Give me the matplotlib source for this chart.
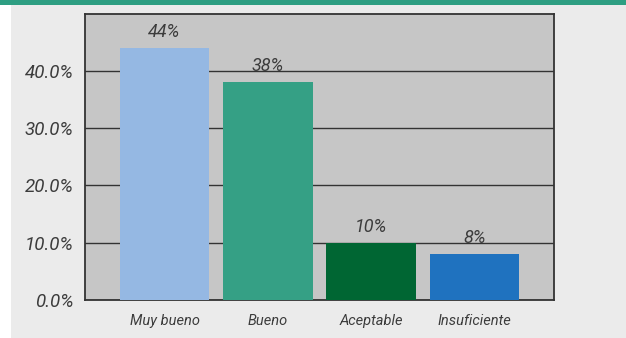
import matplotlib
matplotlib.use("Agg")
import matplotlib.pyplot as plt
from matplotlib.patches import Rectangle
from matplotlib.ticker import FuncFormatter

categories = ["Muy bueno", "Bueno", "Aceptable", "Insuficiente"]
values = [44, 38, 10, 8]
value_labels = ["44%", "38%", "10%", "8%"]
bar_colors = ["#95b8e3", "#35a085", "#006633", "#1f72bf"]
y_ticks = [0, 10, 20, 30, 40]

FONT = ["Roboto", "DejaVu Sans"]
TEXT = "#3c3c3c"

fig = plt.figure(figsize=(6.26, 3.38), dpi=100)
fig.patch.set_facecolor("white")

# page panel and teal strip along the top, kept behind the axes
fig.patches.append(Rectangle((11 / 626, 0), 1, 1 - 5 / 338, transform=fig.transFigure,
                             facecolor="#ebebeb", edgecolor="none", zorder=-10))
fig.patches.append(Rectangle((0, 1 - 5 / 338), 1, 5 / 338, transform=fig.transFigure,
                             facecolor="#2e9e82", edgecolor="none", zorder=-10))

ax = fig.add_axes([85 / 626, 38 / 338, (554 - 85) / 626, (300 - 13.5) / 338])
ax.set_facecolor("#c6c6c6")

x = list(range(len(categories)))
bars = ax.bar(x, values, width=0.87, color=bar_colors, zorder=3)

for rect, lab in zip(bars, value_labels):
    ax.annotate(lab, (rect.get_x() + rect.get_width() / 2, rect.get_height()),
                xytext=(0, 5), textcoords="offset points", ha="center", va="bottom",
                fontsize=13, fontstyle="italic", family=FONT,
                color=TEXT, zorder=4)

ax.set_xlim(-0.77, 3.77)
ax.set_ylim(0, 50)
ax.set_yticks(y_ticks)
ax.yaxis.set_major_formatter(FuncFormatter(lambda v, p: f"{v:.1f}%"))
ax.set_xticks(x)
ax.set_xticklabels(categories)

ax.grid(axis="y", color="#333333", linewidth=1.0, zorder=1)
ax.set_axisbelow(True)

ax.tick_params(axis="both", length=0, colors=TEXT)
ax.tick_params(axis="y", pad=8, labelsize=13.5)
ax.tick_params(axis="x", pad=10, labelsize=10.5)
for t in ax.get_xticklabels() + ax.get_yticklabels():
    t.set_family(FONT)
    t.set_fontstyle("italic")

for s in ax.spines.values():
    s.set_color("#333333")
    s.set_linewidth(1.3)

fig.savefig("out.png", dpi=100, facecolor=fig.get_facecolor())
